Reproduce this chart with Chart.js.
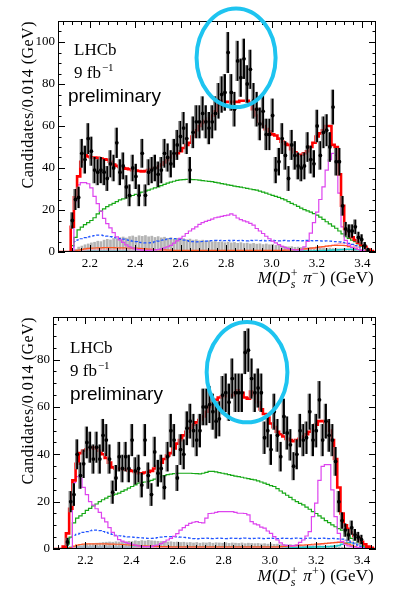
<!DOCTYPE html>
<html>
<head>
<meta charset="utf-8">
<script src="https://cdn.jsdelivr.net/npm/chart.js@4.4.0/dist/chart.umd.min.js"></script>
<style>
  body { margin: 0; background: #fff; }
  canvas { position: absolute; left: 0; }
</style>
</head>
<body>
<canvas id="top" width="393" height="297" style="top:0"></canvas>
<canvas id="bot" width="393" height="297" style="top:297px"></canvas>
<script>
// bins of 0.014 GeV from 2.06 to 3.46
const LO = 2.06, BW = 0.014, HI = 3.46;
const xTickVals = [2.2, 2.4, 2.6, 2.8, 3.0, 3.2, 3.4];
const yTicksTop = [0, 20, 40, 60, 80, 100];
const yTicksBot = [0, 20, 40, 60, 80];

// ---- top panel: M(Ds+ pi-) ----
const topData = [
  null,null,null,null,15,25,26,47,44,54,
  48,39,38,39,38,35,42,40,52,38,
  41,31,27,40,36,27,47,27,38,39,
  40,37,39,47,45,42,47,51,55,59,
  54,39,57,62,62,66,62,59,62,66,
  72,75,76,95,76,68,91,83,92,80,
  87,72,68,61,67,56,56,65,39,43,
  54,46,35,51,46,41,40,41,50,44,
  42,60,46,57,58,50,69,43,43,22,
  11,10,10,12,7,6,3,1,null,null];
const topFit = [
  0,0,0,0,12,26,36,43,46,45.5,
  45,45,44.8,44.5,44.2,44,43,41.6,41,40.5,
  40,39.7,39.4,39,38.8,38.6,38.4,38.5,39,39.5,
  40,40.8,41.6,42.7,43.8,45,46,47,48,49.5,
  51,52,55,58,60,61.5,62.5,63.5,65,67,
  70,72,71.5,71.5,71.5,71.5,71.5,72,72,72,
  71,68,65,62,60,58.5,57.5,56,55.5,54,
  52.5,51.5,51,49,47.5,46,46.3,47,48,50,
  52,55,56.5,58,60,60,51,50,37,22,
  11,9,7,5.7,4.4,3.3,2.5,1.2,0.5,0];
const topGreen = [
  0,0,0,0,3,7,10.5,11.8,13,14,
  15,16.3,18.2,19.5,20.5,21.6,22.4,23.2,24,24.8,
  25.3,25.8,26.3,26.9,27.4,28,28.5,29,29.5,30,
  30.5,31,31.6,32.2,32.8,33.3,33.7,34.1,34.3,34.5,
  34.6,34.6,34.5,34.4,34.2,34,33.8,33.6,33.5,33.2,
  32.9,32.6,32.3,32,31.7,31.4,31.1,30.9,30.6,30.3,
  30,29.7,29.5,29,28.5,28,27.5,27,26.5,26,
  25.4,24.8,24,23.2,22.5,21.7,20.9,20.2,19.6,19,
  18.3,17.6,16.6,15.5,14.4,13.4,12.3,11.3,10,8.6,
  7.3,6.5,5.7,4.9,3.8,2.8,1.8,0.8,0.2,0];
const topMag = [
  0,0,0,0,0,24,32,33,33,32.5,
  30.5,26.5,23,19.5,16,13.5,11.5,9.2,7.2,5.8,
  4.6,3.4,2.5,1.9,1.4,1.1,0.9,0.8,0.8,0.9,
  1,1.2,1.5,2,2.5,3.2,4.2,5.3,6.5,7.5,
  8.8,10,11,12,13.2,14,14.6,15.1,15.7,16.3,
  16.6,17,17.3,17.6,18.2,17.5,16.2,15.4,14.8,14.3,
  13.6,12.8,11.2,10,8.8,7.5,6.3,5.2,4.3,3.5,
  2.7,2.1,1.6,1.2,1,0.9,1,2.5,5,9,
  14,19,25,31,39,44,47,46,28,12,
  5.5,3.3,2.2,1.7,1.2,0.8,0.4,0,0,0];
const topBlue = [
  0,0,0,0,2.4,5,5.8,6.3,6.8,7.2,
  7.5,7.8,8,8,7.8,7.6,7.3,7,6.7,6.4,
  6.1,5.8,5.5,5.2,4.9,4.6,4.4,4.3,4.3,4.5,
  4.8,5.2,5.6,5.9,6.2,6.4,6.4,6.2,6,5.7,
  5.4,5.1,4.9,4.8,4.9,5,5.2,5.3,5.4,5.5,
  5.4,5.6,5.4,5.5,5.3,5.5,5.4,5.6,5.4,5.3,
  5.5,5.4,5.6,5.4,5.5,5.3,5.4,5.5,5.4,5.3,
  5.4,5.5,5.3,5.4,5.5,5.4,5.3,5.4,5.5,5.4,
  5.3,5.4,5.3,5.2,5.3,5.2,5,4.9,4.8,4.6,
  4.3,4.1,3.6,3,2.5,1.8,1,0.4,0,0];
const topGray = [
  0,0,0,0,0.5,1.5,2.5,3,3.6,4,
  4.5,4.8,5.3,5.1,5.8,6.2,5.9,6.6,6.4,7,
  7.3,6.8,7.5,7.8,7.2,7.9,7.6,8,7.4,7.7,
  7.1,7.5,6.9,7.2,6.6,7,6.4,6.7,6.2,6.5,
  6,6.3,5.8,6,5.5,5.8,5.3,5.5,5,5.2,
  4.8,5,4.6,4.9,4.5,4.7,4.3,4.6,4.2,4.4,
  4,4.3,3.9,4.1,3.7,4,3.6,3.8,3.3,3.4,
  3,2.8,2.6,2.7,2.4,2.5,2.3,2.4,2.2,2.3,
  2.1,2.2,2,2.1,1.9,2,1.8,1.9,1.7,1.6,
  1.5,1.4,1.2,1,0.8,0.6,0.3,0,0,0];
const topOrange = [
  0,0,0,0,0,0.5,0.9,1.2,1.5,1.7,
  1.8,1.9,2,2,2.1,2.1,2.1,2.1,2,2,
  2,1.9,1.9,1.8,1.8,1.7,1.6,1.5,1.4,1.3,
  1.2,1.1,1,1,0.9,0.9,0.8,0.8,0.8,0.8,
  0.8,0.8,0.8,0.8,0.8,0.8,0.8,0.8,0.8,0.8,
  0.8,0.8,0.8,0.8,0.8,0.8,0.8,0.8,0.8,0.8,
  0.8,0.8,0.8,0.8,0.8,0.8,0.8,0.8,0.8,0.8,
  0.8,0.9,0.9,1,1.1,1.2,1.3,1.5,1.6,1.8,
  2,2.2,2.4,2.6,2.8,2.9,3.1,3.2,3.2,3.2,
  3,2.6,2.2,1.7,1.2,0.7,0.3,0,0,0];
const topPink = [
  0,0,0,0,0,0.3,0.6,0.8,0.9,1,
  1,1,1,1,1,1,1,1,1,1,
  1,1,0.9,0.9,0.9,0.9,0.8,0.8,0.8,0.8,
  0.8,0.8,0.7,0.7,0.7,0.7,0.7,0.7,0.7,0.7,
  0.7,0.7,0.7,0.7,0.7,0.7,0.7,0.7,0.7,0.7,
  0.7,0.7,0.7,0.7,0.7,0.7,0.7,0.7,0.7,0.7,
  0.7,0.7,0.7,0.7,0.7,0.7,0.7,0.7,0.7,0.7,
  0.8,0.8,0.9,1,1.1,1.2,1.3,1.4,1.5,1.6,
  1.8,2,2.2,2.5,2.8,3.1,3.4,3.7,4,4.2,
  4.2,4,3.5,2.8,2,1.2,0.5,0,0,0];
const topCyan = [
  0,0,0,0,0.4,0.5,0.5,0.5,0.5,0.5,
  0.5,0.5,0.5,0.5,0.5,0.5,0.5,0.5,0.5,0.5,
  0.5,0.5,0.5,0.5,0.5,0.5,0.5,0.5,0.5,0.5,
  0.5,0.5,0.5,0.5,0.5,0.5,0.5,0.5,0.5,0.5,
  0.5,0.5,0.5,0.5,0.5,0.5,0.5,0.5,0.5,0.5,
  0.5,0.5,0.5,0.5,0.5,0.5,0.5,0.5,0.5,0.5,
  0.5,0.5,0.5,0.5,0.5,0.5,0.5,0.5,0.5,0.5,
  0.5,0.5,0.5,0.5,0.5,0.5,0.5,0.5,0.5,0.5,
  0.5,0.6,0.6,0.7,0.7,0.8,0.9,1,1.1,1.2,
  1.3,1.3,1.3,1.2,1.1,0.8,0.4,0,0,0];

// ---- bottom panel: M(Ds+ pi+) ----
const botData = [
  null,null,null,null,3,20,23,40,31,36,
  45,43,38,43,38,48,46,38,24,30,
  39,34,39,34,46,33,34,27,46,31,
  23,41,32,34,26,39,50,46,30,42,
  40,51,54,50,46,50,60,60,61,58,
  54,55,65,66,62,72,66,66,66,83,
  84,72,66,68,66,47,50,42,58,48,
  39,56,49,44,35,40,50,46,47,58,
  46,50,63,46,54,48,46,37,20,12,
  8,6,9,6,5,4,null,null,null,null];
const botFit = [
  0,0,0,1,6.6,17,29,36,40.5,41.5,
  42,42.5,43,42.5,41.5,40,38.5,36.5,34.5,34,
  34,33.8,33.5,33.2,33,32.5,32,32,32.3,32.5,
  33,34,35,36.5,38,39.5,40.5,42.5,44.5,46,
  48,49.5,51,52.5,53.5,54.5,56,58,60,61.5,
  63,64,64.5,64.5,64.5,65,66,67,66,64,
  63.5,66.5,65,62,59,57,55.5,53,51.5,49.5,
  48.5,47.5,46.5,46,45.5,46,46.5,47.5,48.5,49.5,
  50.5,52.5,54,54,53.5,50,46,38,26,15,
  10,8.5,7,5.5,4.5,3,2,1,0.5,0];
const botGreen = [
  0,0,0,0,2,5,11,13,14,15,
  16.3,17.2,18.2,19,20,20.8,21.5,22.2,22.7,23.2,
  23.6,24.3,25,25.7,26.4,27.1,27.8,28.1,28.3,28.5,
  29,29.5,30,30.5,31,31.4,31.6,31.8,32,32,
  32,32,32,31.9,31.8,31.7,32,32.4,32.8,32.8,
  32.6,32.3,32,31.7,31.4,31.1,30.8,30.6,30.3,30,
  29.7,29.4,29.2,28.8,28.3,27.8,27.3,26.8,26.4,25.5,
  24.5,23.6,22.7,21.8,20.8,20,19.3,18.6,17.7,16.8,
  15.8,15,14,13,12,11.1,10.2,9.4,8.6,8,
  6.8,5.6,4.5,3.7,3,2.4,1.2,0.5,0,0];
const botMag = [
  0,0,0,0,0,0,28,30.6,30,26,
  23,20,18.5,17,15.5,13,11.5,9,7,5.5,
  4,3.3,2.8,2.4,2,1.6,1.3,1.1,1,1,
  1.1,1.4,1.7,2.3,3,3.8,4.5,5.3,6.5,8,
  9,10,10.8,11.3,11.6,11.2,11,13,15,15.1,
  15.5,15.8,15.8,15.8,15.8,15.8,15.5,15.1,15.1,15,
  14.4,11.6,10.6,10.2,9.2,8.8,7.6,6.6,5.2,3.8,
  2.6,1.7,1.5,1.3,1.4,1.7,2.8,3.8,5.5,7.3,
  13.7,19.4,29,34.9,35.6,35.6,25,13.7,6.6,3.1,
  1.8,1.3,1,0.8,0.7,0.5,0.3,0,0,0];
const botBlue = [
  0,0,0,0,2.5,4.5,5.8,6.2,6.6,7,
  7.3,7.7,8,8,7.8,7.4,7,6.6,6.2,5.8,
  5.6,5.4,5.2,5.1,5,4.9,4.8,4.7,4.6,4.5,
  4.5,4.6,4.8,5,5.2,5.2,5.2,5.2,5.1,5,
  4.9,4.8,4.6,4.4,4.3,4.4,4.5,4.6,4.5,4.4,
  4.5,4.6,4.5,4.4,4.5,4.6,4.5,4.4,4.5,4.6,
  4.5,4.4,4.5,4.6,4.5,4.4,4.5,4.6,4.5,4.4,
  4.5,4.6,4.5,4.4,4.5,4.6,4.5,4.4,4.5,4.6,
  4.5,4.4,4.5,4.6,4.5,4.4,4.5,4.4,4.3,4.2,
  3.8,3.3,2.8,2.2,1.6,1,0.5,0,0,0];
const botGray = [
  0,0,0,0,0,0.5,1,1.3,1.6,1.9,
  2.1,2.3,2.4,2.6,2.7,2.9,3,3.1,3,3.2,
  3.1,3.3,3.2,3.4,3.3,3.6,3.4,3.7,3.5,3.8,
  3.6,3.5,3.4,3.3,3.2,3.1,3.2,3,3.1,2.9,
  3,2.8,2.9,2.7,2.9,2.6,2.8,2.7,2.9,2.6,
  2.8,2.7,2.6,2.8,2.5,2.7,2.6,2.5,2.7,2.4,
  2.6,2.5,2.4,2.5,2.3,2.4,2.2,2.3,2.1,2.2,
  2,2.1,1.9,2,1.8,1.9,1.8,1.7,1.7,1.6,
  1.6,1.5,1.5,1.4,1.4,1.3,1.2,1.1,1,0.9,
  0.8,0.7,0.6,0.5,0.4,0.3,0.2,0,0,0];
const botOrange = [
  0,0,0,0,0,0.6,1.2,1.6,1.9,2.1,
  2.2,2.2,2.2,2.2,2.2,2.2,2.2,2.1,2.1,2,
  2,1.9,1.8,1.7,1.6,1.5,1.4,1.3,1.3,1.2,
  1.2,1.1,1.1,1,1,1,0.9,0.9,0.9,0.9,
  0.9,0.9,0.9,0.9,0.9,0.9,0.9,0.9,0.9,0.9,
  0.9,0.9,0.9,0.9,0.9,0.9,0.9,0.9,0.9,0.9,
  0.9,0.9,0.9,0.9,0.9,0.9,0.9,0.9,0.9,0.9,
  1,1.1,1.2,1.3,1.4,1.5,1.6,1.7,1.8,1.9,
  2,2.1,2.2,2.3,2.4,2.5,2.6,2.7,2.8,2.8,
  2.5,2.1,1.6,1.1,0.6,0.3,0,0,0,0];
const botPink = [
  0,0,0,0,0,0.4,0.7,0.8,0.8,0.8,
  0.8,0.8,0.8,0.8,0.8,0.8,0.8,0.8,0.8,0.8,
  0.8,0.8,0.8,0.8,0.7,0.7,0.7,0.7,0.7,0.7,
  0.6,0.6,0.6,0.6,0.6,0.6,0.6,0.6,0.6,0.6,
  0.6,0.6,0.6,0.6,0.6,0.6,0.6,0.6,0.6,0.6,
  0.6,0.6,0.6,0.6,0.6,0.6,0.6,0.6,0.6,0.6,
  0.6,0.6,0.6,0.6,0.6,0.6,0.6,0.6,0.6,0.6,
  0.7,0.8,0.9,1,1.1,1.2,1.3,1.4,1.5,1.6,
  1.7,1.8,1.9,2,2.2,2.5,2.7,2.9,3.1,3.3,
  3.5,3.4,3,2.5,1.8,1,0.4,0,0,0];
const botCyan = [
  0,0,0,0,0.5,0.7,0.7,0.7,0.7,0.7,
  0.7,0.7,0.7,0.7,0.7,0.7,0.7,0.7,0.7,0.7,
  0.7,0.7,0.7,0.7,0.7,0.7,0.7,0.7,0.7,0.7,
  0.7,0.7,0.7,0.7,0.7,0.7,0.7,0.7,0.7,0.7,
  0.7,0.7,0.7,0.7,0.7,0.7,0.7,0.7,0.7,0.7,
  0.7,0.7,0.7,0.7,0.7,0.7,0.7,0.7,0.7,0.7,
  0.7,0.7,0.7,0.7,0.7,0.7,0.7,0.7,0.7,0.7,
  0.7,0.7,0.7,0.7,0.7,0.7,0.7,0.7,0.7,0.7,
  0.8,0.8,0.9,0.9,1,1.1,1.2,1.3,1.5,2,
  2.4,2.6,2.6,2.4,2,1.3,0.5,0,0,0];

const SERIF = '"Liberation Serif", "DejaVu Serif", serif';
const SANS = '"Liberation Sans", Arial, sans-serif';

// histogram outline: one point per lower bin edge + closing edge
function hist(vals) {
  const pts = vals.map((v, i) => ({ x: LO + i * BW, y: v }));
  pts.push({ x: LO + vals.length * BW, y: vals[vals.length - 1] });
  return pts;
}
function centers(vals) {
  return vals.map((v, i) => v == null ? null : { x: LO + (i + 0.5) * BW, y: v }).filter(Boolean);
}
function line(vals, color, width, dash) {
  return { data: hist(vals), borderColor: color, borderWidth: width, borderDash: dash || [],
           stepped: true, pointRadius: 0, fill: false, tension: 0 };
}

// poisson error bars under the data points
const errBars = {
  id: 'errBars',
  beforeDatasetDraw(chart, args) {
    const ds = chart.data.datasets[args.index];
    if (!ds.isData) return;
    const { ctx, scales: { y } } = chart;
    ctx.save();
    args.meta.data.forEach((pt, j) => {
      const v = ds.data[j].y, e = Math.sqrt(v);
      const y1 = y.getPixelForValue(v - e), y2 = y.getPixelForValue(v + e);
      ctx.strokeStyle = '#8a8a8a'; ctx.lineWidth = 1.3;
      ctx.beginPath(); ctx.moveTo(pt.x - 1.6, y1); ctx.lineTo(pt.x - 1.6, y2); ctx.stroke();
      ctx.strokeStyle = '#000'; ctx.lineWidth = 2;
      ctx.beginPath(); ctx.moveTo(pt.x, y1); ctx.lineTo(pt.x, y2); ctx.stroke();
    });
    ctx.restore();
  }
};

// ROOT style frame with inward ticks on all four sides
const frame = {
  id: 'frame',
  afterDatasetsDraw(chart) {
    const { ctx, chartArea: a, scales: { x, y } } = chart;
    ctx.save();
    ctx.strokeStyle = '#000'; ctx.lineWidth = 1;
    ctx.strokeRect(a.left + 0.5, a.top + 0.5, a.right - a.left - 1, a.bottom - a.top - 1);
    ctx.beginPath();
    for (let k = 52; k <= 86; k++) {
      const px = Math.round(x.getPixelForValue(k * 0.04)) + 0.5;
      const len = k % 5 === 0 ? 7 : 4;
      ctx.moveTo(px, a.bottom); ctx.lineTo(px, a.bottom - len);
      ctx.moveTo(px, a.top); ctx.lineTo(px, a.top + len);
    }
    for (let v = 0; v <= y.max; v += 5) {
      const py = Math.round(y.getPixelForValue(v)) + 0.5;
      const len = v % 20 === 0 ? 7 : 3.5;
      ctx.moveTo(a.left, py); ctx.lineTo(a.left + len, py);
      ctx.moveTo(a.right, py); ctx.lineTo(a.right - len, py);
    }
    ctx.stroke();
    ctx.restore();
  }
};

function drawRich(ctx, segs, right, base, size) {
  const small = Math.round(size * 0.7);
  const items = segs.map(s => {
    if (s.t !== undefined) {
      ctx.font = (s.it ? 'italic ' : '') + size + 'px ' + SERIF;
      return { s, w: ctx.measureText(s.t).width + 0.4 * s.t.length };
    }
    ctx.font = 'italic ' + small + 'px ' + SERIF;
    const w1 = s.sub ? ctx.measureText(s.sub).width : 0;
    ctx.font = small + 'px ' + SERIF;
    const w2 = s.sup ? ctx.measureText(s.sup).width : 0;
    return { s, w: Math.max(w1, w2) + 1 };
  });
  let x = right - items.reduce((t, it) => t + it.w, 0);
  items.forEach(({ s, w }) => {
    if (s.t !== undefined) {
      ctx.font = (s.it ? 'italic ' : '') + size + 'px ' + SERIF;
      ctx.fillText(s.t, x, base);
    } else {
      if (s.sub) { ctx.font = 'italic ' + small + 'px ' + SERIF; ctx.fillText(s.sub, x, base + size * 0.28); }
      if (s.sup) { ctx.font = small + 'px ' + SERIF; ctx.fillText(s.sup, x, base - size * 0.36); }
    }
    x += w;
  });
}

// labels, titles and the highlight ellipse
const deco = {
  id: 'deco',
  afterDraw(chart) {
    const o = chart.options.plugins.deco;
    const { ctx, chartArea: a, scales: { x, y } } = chart;
    ctx.save();
    ctx.fillStyle = '#000';
    ctx.textBaseline = 'alphabetic';
    ctx.font = '17px ' + SERIF;
    ctx.fillText('LHCb', o.tx, o.ty);
    ctx.fillText('9 fb', o.tx, o.ty + 23);
    const w = ctx.measureText('9 fb').width;
    ctx.font = '11px ' + SERIF;
    ctx.fillText('\u22121', o.tx + w + 1, o.ty + 16);
    ctx.font = '19px ' + SANS;
    ctx.fillText('preliminary', o.px, o.ty + 47);

    // y title, right-aligned to the top of the frame
    ctx.save();
    ctx.translate(33, a.top);
    ctx.rotate(-Math.PI / 2);
    ctx.textAlign = 'right';
    ctx.font = '16px ' + SERIF;
    ctx.letterSpacing = '0.5px';
    ctx.fillText('Candidates/0.014 (GeV)', 0, 0);
    ctx.restore();

    // x title, below the tick labels
    drawRich(ctx, [
      { t: 'M', it: true }, { t: '(' }, { t: 'D', it: true }, { sub: 's', sup: '+' },
      { t: ' ' }, { t: '\u03c0', it: true }, { sup: o.charge }, { t: ')' }, { t: ' (GeV)' }
    ], a.right, o.xt, 17);

    // ellipse given in data units
    const ex = x.getPixelForValue(o.ell[0]), ey = y.getPixelForValue(o.ell[1]);
    const rx = Math.abs(x.getPixelForValue(o.ell[0] + o.ell[2]) - ex);
    const ry = Math.abs(y.getPixelForValue(o.ell[1] + o.ell[3]) - ey);
    ctx.strokeStyle = '#1ec4f0'; ctx.lineWidth = 4;
    ctx.beginPath(); ctx.ellipse(ex, ey, rx, ry, 0, 0, Math.PI * 2); ctx.stroke();
    ctx.restore();
  }
};

function makeChart(id, p) {
  return new Chart(document.getElementById(id), {
    type: 'line',
    data: {
      datasets: [
        { data: centers(p.data), isData: true, showLine: false, pointRadius: 1.9,
          pointBackgroundColor: '#000', pointBorderWidth: 0 },
        line(p.fit, '#ff0000', 2.6),
        line(p.mag, '#dd44ee', 1.2),
        line(p.green, '#16a816', 1.2),
        line(p.blue, '#2255ff', 1.2, [3, 2]),
        line(p.orange, '#ff5522', 1.2),
        line(p.pink, '#ff9ab8', 1),
        line(p.cyan, '#1cc8c8', 1.5),
        { type: 'bar', data: centers(p.gray), backgroundColor: '#b4b4b4', borderWidth: 0,
          barPercentage: 0.85, categoryPercentage: 1, grouped: false }
      ]
    },
    options: {
      responsive: false,
      animation: false,
      layout: { padding: { left: 0, right: 393 - p.area.right, top: p.area.top, bottom: 0 } },
      plugins: {
        legend: { display: false },
        tooltip: { enabled: false },
        deco: p.deco
      },
      scales: {
        x: {
          type: 'linear', min: LO, max: HI, offset: false,
          grid: { display: false, drawTicks: false }, border: { display: false },
          afterFit: s => { s.height = 297 - p.area.bottom; },
          afterBuildTicks: s => { s.ticks = xTickVals.map(v => ({ value: v })); },
          ticks: { autoSkip: false, maxRotation: 0, padding: 4, color: '#000',
                   font: { family: SERIF, size: 13 }, callback: v => v.toFixed(1) }
        },
        y: {
          type: 'linear', min: 0, max: p.yMax,
          grid: { display: false, drawTicks: false }, border: { display: false },
          afterFit: s => { s.width = p.area.left; },
          afterBuildTicks: s => { s.ticks = p.yTicks.map(v => ({ value: v })); },
          ticks: { autoSkip: false, padding: 3, color: '#000',
                   font: { family: SERIF, size: 13 }, callback: v => String(v) }
        }
      }
    },
    plugins: [errBars, frame, deco]
  });
}

makeChart('top', {
  data: topData, fit: topFit, green: topGreen, mag: topMag, blue: topBlue,
  gray: topGray, orange: topOrange, pink: topPink, cyan: topCyan,
  yMax: 110, yTicks: yTicksTop,
  area: { left: 58, top: 21, right: 376, bottom: 252 },
  deco: { tx: 74, ty: 55, px: 68, xt: 283, charge: '\u2212', ell: [2.844, 92.5, 0.174, 23.5] }
});
makeChart('bot', {
  data: botData, fit: botFit, green: botGreen, mag: botMag, blue: botBlue,
  gray: botGray, orange: botOrange, pink: botPink, cyan: botCyan,
  yMax: 98, yTicks: yTicksBot,
  area: { left: 53, top: 20, right: 376, bottom: 252 },
  deco: { tx: 70, ty: 56, px: 70, xt: 284, charge: '+', ell: [2.901, 74.7, 0.175, 21.2] }
});
</script>
</body>
</html>
